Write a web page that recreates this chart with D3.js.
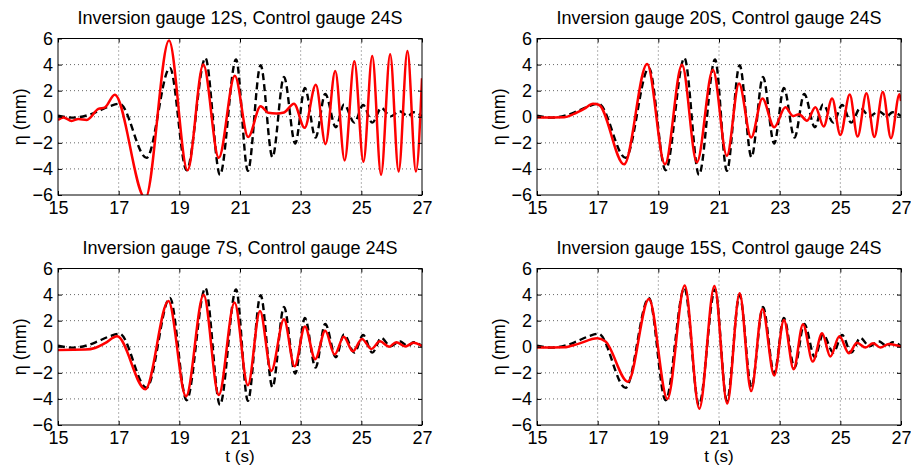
<!DOCTYPE html>
<html>
<head>
<meta charset="utf-8">
<script src="https://cdn.jsdelivr.net/npm/d3@7"></script>
<style>
  body { margin: 0; background: #fff; }
  text { font-family: "Liberation Sans", Arial, Helvetica, sans-serif; fill: #000; }
</style>
</head>
<body>
<svg id="chart" width="911" height="469"></svg>
<script>
// control gauge 24S (black dashed), same in every panel: [t (s), eta (mm)]
var control24S = [
  [15.0, 0.08], [15.5, -0.07], [15.95, 0.1], [16.3, 0.4], [16.7, 0.8], [17.03, 1.0],
  [17.92, -3.15], [18.69, 3.75], [19.24, -4.1], [19.86, 4.5], [20.34, -4.45],
  [20.87, 4.4], [21.26, -4.15], [21.68, 3.95], [22.07, -3.1], [22.45, 3.05],
  [22.82, -2.05], [23.14, 2.2], [23.49, -1.6], [23.81, 1.75], [24.16, -0.8],
  [24.43, 0.95], [24.77, -0.45], [25.06, 0.9], [25.36, -0.45], [25.66, 0.68],
  [25.96, 0.03], [26.26, 0.42], [26.54, 0.05], [26.72, 0.35], [27.0, 0.05]
];

// inversion gauges (red solid)
var inv12S = [
  [15.0, -0.24], [15.18, -0.05], [15.45, -0.32], [15.67, -0.17], [15.95, -0.24],
  [16.33, 0.6], [16.55, 0.72], [16.87, 1.68], [17.88, -6.25], [18.66, 5.85],
  [19.27, -4.1], [19.79, 4.0], [20.3, -3.15], [20.83, 3.15], [21.27, -1.55],
  [21.68, 0.8], [21.93, 0.3], [22.2, 0.25], [22.45, 0.33], [22.78, 1.0],
  [23.13, -0.85], [23.5, 2.45], [23.82, -2.1], [24.14, 3.5], [24.45, -3.35],
  [24.77, 4.25], [25.07, -3.45], [25.36, 4.65], [25.65, -4.45], [25.95, 4.8],
  [26.23, -4.2], [26.52, 5.05], [26.8, -4.2], [27.0, 2.95]
];
var inv20S = [
  [15.0, -0.06], [15.9, -0.03], [16.22, 0.22], [16.55, 0.6], [16.85, 1.0],
  [17.05, 0.9], [17.87, -3.65], [18.63, 4.05], [19.22, -3.65], [19.78, 3.98],
  [20.27, -3.5], [20.8, 3.6], [21.26, -3.0], [21.66, 2.55], [22.06, -1.6],
  [22.43, 1.4], [22.82, -0.8], [23.19, 0.72], [23.44, 0.05], [23.64, 0.2],
  [23.9, -0.3], [24.18, 0.72], [24.45, -0.75], [24.73, 1.4], [25.0, -1.4],
  [25.31, 1.7], [25.57, -1.52], [25.86, 1.8], [26.12, -1.55], [26.4, 1.9],
  [26.67, -1.65], [26.95, 1.72], [27.0, 1.2]
];
var inv7S = [
  [15.0, -0.25], [15.9, -0.22], [16.22, -0.1], [16.55, 0.27], [16.95, 0.8],
  [17.88, -3.25], [18.64, 3.5], [19.22, -3.8], [19.8, 3.98], [20.3, -3.7],
  [20.82, 3.4], [21.26, -2.95], [21.66, 2.75], [22.03, -1.85], [22.45, 2.1],
  [22.8, -1.5], [23.14, 1.55], [23.48, -0.95], [23.81, 1.22], [24.12, -0.6],
  [24.42, 0.77], [24.72, -0.35], [25.02, 0.6], [25.33, -0.17], [25.61, 0.42],
  [25.92, 0.0], [26.15, 0.35], [26.45, 0.02], [26.72, 0.3], [27.0, 0.05]
];
var inv15S = [
  [15.0, -0.06], [15.9, -0.04], [16.33, 0.2], [16.99, 0.65], [17.26, 0.4],
  [18.0, -2.68], [18.69, 3.67], [19.3, -4.0], [19.87, 4.7], [20.35, -4.75],
  [20.85, 4.65], [21.27, -4.35], [21.68, 4.1], [22.06, -3.4], [22.43, 2.9],
  [22.82, -2.2], [23.14, 2.06], [23.46, -1.73], [23.77, 1.73], [24.09, -1.14],
  [24.4, 1.04], [24.67, -0.75], [24.97, 0.8], [25.28, -0.5], [25.55, 0.3],
  [25.83, -0.06], [26.08, 0.27], [26.32, -0.06], [26.6, 0.22], [27.0, 0.0]
];

var titles = [
  "Inversion gauge 12S, Control gauge 24S",
  "Inversion gauge 20S, Control gauge 24S",
  "Inversion gauge 7S, Control gauge 24S",
  "Inversion gauge 15S, Control gauge 24S"
];
var inversions = [inv12S, inv20S, inv7S, inv15S];
var xTicks = [15, 17, 19, 21, 23, 25, 27];
var yTicks = [-6, -4, -2, 0, 2, 4, 6];

var svg = d3.select("#chart");
var plotW = 364, plotH = 156.5;
var lefts = [58, 537], tops = [38.5, 268.5];

var x = d3.scaleLinear().domain([15, 27]).range([0, plotW]);
var y = d3.scaleLinear().domain([-6, 6]).range([plotH, 0]);
var line = d3.line()
  .x(function(d) { return x(d[0]); })
  .y(function(d) { return y(d[1]); })
  .curve(d3.curveMonotoneX);

titles.forEach(function(title, i) {
  var g = svg.append("g")
    .attr("transform", "translate(" + lefts[i % 2] + "," + tops[Math.floor(i / 2)] + ")");

  // dotted grid
  g.append("g").selectAll("line").data(xTicks.slice(1, -1)).join("line")
    .attr("x1", function(d) { return x(d); }).attr("x2", function(d) { return x(d); })
    .attr("y1", 0).attr("y2", plotH)
    .attr("stroke", "#666").attr("stroke-width", 1).attr("stroke-dasharray", "1,3");
  g.append("g").selectAll("line").data(yTicks.slice(1, -1)).join("line")
    .attr("y1", function(d) { return y(d); }).attr("y2", function(d) { return y(d); })
    .attr("x1", 0).attr("x2", plotW)
    .attr("stroke", "#666").attr("stroke-width", 1).attr("stroke-dasharray", "1,3");

  g.append("clipPath").attr("id", "clip" + i)
    .append("rect").attr("width", plotW).attr("height", plotH);

  g.append("path").datum(control24S)
    .attr("clip-path", "url(#clip" + i + ")")
    .attr("d", line).attr("fill", "none")
    .attr("stroke", "#000").attr("stroke-width", 2.4).attr("stroke-dasharray", "7,4");
  g.append("path").datum(inversions[i])
    .attr("clip-path", "url(#clip" + i + ")")
    .attr("d", line).attr("fill", "none")
    .attr("stroke", "#f00").attr("stroke-width", 2.5);

  // axes, ticks inside like matlab
  var fmt = d3.format("d");
  var ax = g.append("g").attr("transform", "translate(0," + plotH + ")")
    .call(d3.axisBottom(x).tickValues(xTicks).tickFormat(fmt).tickSize(-4).tickPadding(6));
  var ay = g.append("g")
    .call(d3.axisLeft(y).tickValues(yTicks).tickFormat(fmt).tickSize(-4).tickPadding(5));
  var at = g.append("g")
    .call(d3.axisTop(x).tickValues(xTicks).tickFormat("").tickSize(-4));
  var ar = g.append("g").attr("transform", "translate(" + plotW + ",0)")
    .call(d3.axisRight(y).tickValues(yTicks).tickFormat("").tickSize(-4));
  [ax, ay, at, ar].forEach(function(a) {
    a.select(".domain").remove();
    a.attr("font-size", 18).attr("font-family", "Liberation Sans, Arial, sans-serif");
    a.selectAll("text").attr("fill", "#000");
  });

  g.append("rect").attr("width", plotW).attr("height", plotH)
    .attr("fill", "none").attr("stroke", "#000").attr("stroke-width", 1);

  g.append("text").attr("x", plotW / 2).attr("y", -15)
    .attr("text-anchor", "middle").attr("font-size", 18).text(title);

  g.append("text")
    .attr("transform", "translate(-32," + (plotH / 2) + ") rotate(-90)")
    .attr("text-anchor", "middle").attr("font-size", 18).text("η (mm)");

  if (i >= 2) {
    g.append("text").attr("x", plotW / 2).attr("y", plotH + 37)
      .attr("text-anchor", "middle").attr("font-size", 17).text("t (s)");
  }
});
</script>
</body>
</html>
